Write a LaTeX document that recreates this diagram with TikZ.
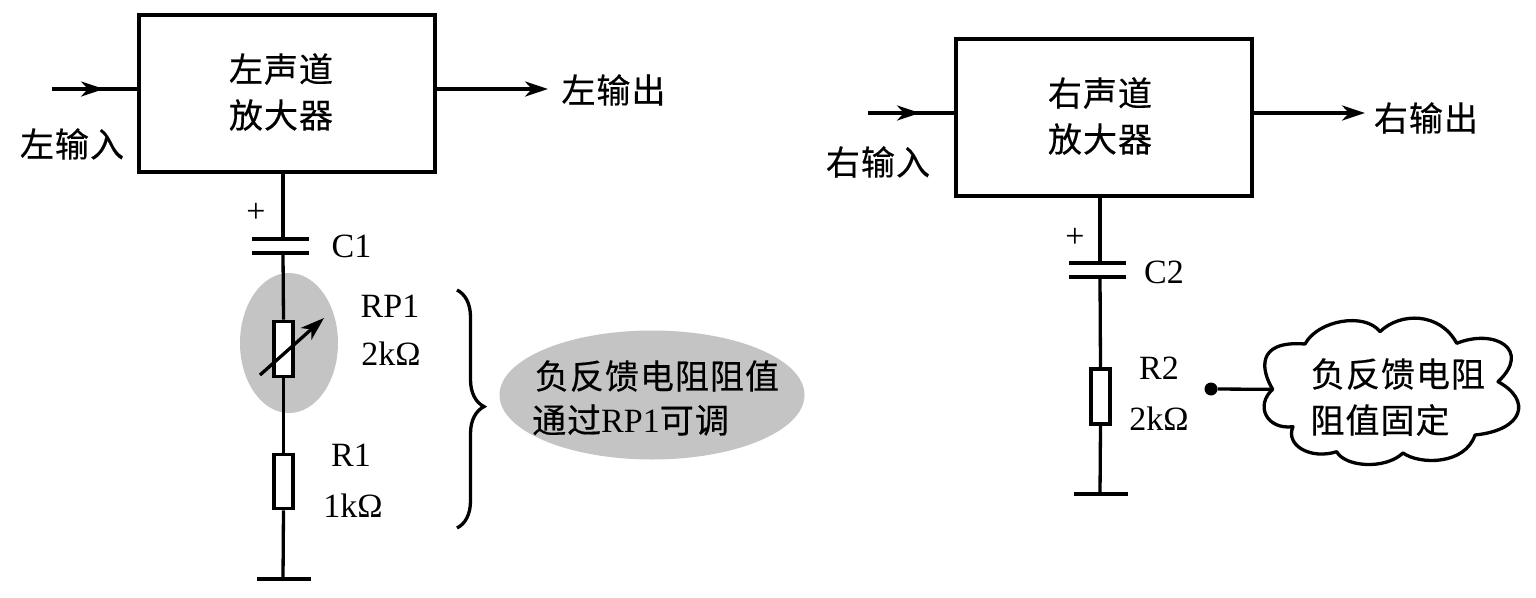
\documentclass[tikz,border=0pt]{standalone}
\usepackage{fontspec}
\usetikzlibrary{arrows.meta,decorations.pathreplacing,shapes.geometric}
\setmainfont{Liberation Serif}
\newfontfamily\cjk[LetterSpace=3,FakeBold=0.4]{Noto Sans CJK SC}
\definecolor{shade}{HTML}{C4C4C4}
\tikzset{
  wire/.style={line width=3.3pt,black},
  plate/.style={line width=4.6pt,black},
  ampbox/.style={draw,line width=3.3pt,minimum width=296pt,minimum height=157pt,inner sep=0pt},
  res/.style={draw,line width=3.6pt,fill=white,minimum width=19pt,inner sep=0pt},
  cjklabel/.style={inner sep=0pt,align=center,font=\cjk\fontsize{34}{46}\selectfont},
  val/.style={inner sep=0pt,font=\fontsize{34}{36}\selectfont},
  tip/.style={-{Stealth[length=23pt,width=15pt,inset=7pt]}},
}
\begin{document}
\begin{tikzpicture}[x=1pt,y=-1pt]
\useasboundingbox (0,0) rectangle (1536,597);
% shaded areas
\node[draw=none,fill=shade,ellipse,minimum width=98pt,minimum height=140pt,inner sep=0pt] (shadeRP) at (289,343) {};
\node[draw=none,fill=shade,ellipse,minimum width=305pt,minimum height=129pt,inner sep=0pt] (noteL) at (652,395) {};
% left channel
\node[ampbox] (boxL) at (287,93.5) {};
\node[cjklabel] (boxLt) at (281,92) {左声道\\放大器};
\coordinate (inL) at (52,89);
\coordinate (inLm) at (104,89);
\coordinate (outL) at (548,89);
\coordinate (topL) at (283,172);
\coordinate (capLa) at (283,239);
\coordinate (capLb) at (283,253);
\coordinate (gndL) at (283,579);
\node[res,minimum height=55pt] (rpL) at (283.5,349) {};
\node[res,minimum height=54pt] (rL) at (283.5,481.5) {};
\draw[wire] (inL) -- (inL -| boxL.west);
\draw[wire,tip] (inL) -- (inLm);
\draw[wire,tip] (boxL.east |- outL) -- (outL);
\draw[wire] (topL) -- (capLa);
\draw[wire] (capLb) -- (rpL.north);
\draw[wire] (rpL.south) -- (rL.north);
\draw[wire] (rL.south) -- (gndL);
\draw[plate] (252,239) -- (309,239);
\draw[plate] (252,253) -- (309,253);
\draw[plate] (257,579) -- (311,579);
\coordinate (adjA) at (260,375);
\coordinate (adjB) at (324,318);
\draw[wire,-{Stealth[length=24pt,width=16pt,inset=7pt]}] (adjA) -- (adjB);
\draw[wire,decorate,decoration={brace,amplitude=27pt,aspect=0.49}] (457,290) -- (457,528);
% right channel
\node[ampbox] (boxR) at (1104,117.5) {};
\node[cjklabel] (boxRt) at (1100,116) {右声道\\放大器};
\coordinate (inR) at (868,113);
\coordinate (inRm) at (920,113);
\coordinate (outR) at (1365,113);
\coordinate (topR) at (1100,196);
\coordinate (capRa) at (1100,263);
\coordinate (capRb) at (1100,277);
\coordinate (gndR) at (1100,494);
\node[res,minimum height=55pt] (rR) at (1100.5,396.5) {};
\draw[wire] (inR) -- (inR -| boxR.west);
\draw[wire,tip] (inR) -- (inRm);
\draw[wire,tip] (boxR.east |- outR) -- (outR);
\draw[wire] (topR) -- (capRa);
\draw[wire] (capRb) -- (rR.north);
\draw[wire] (rR.south) -- (gndR);
\draw[plate] (1069,263) -- (1126,263);
\draw[plate] (1069,277) -- (1126,277);
\draw[plate] (1074,494) -- (1128,494);
% cloud
\coordinate (cloudL) at (1272.7,389.3);
\draw[line width=3.3pt,fill=white,line join=round] (cloudL)
 .. controls (1262,372) and (1254,340) .. (1305,344)
 .. controls (1318,320) and (1365,312) .. (1380,331.7)
 .. controls (1400,312) and (1440,312) .. (1456.7,343.3)
 .. controls (1495,328) and (1532,350) .. (1498,381.7)
 .. controls (1532,400) and (1524,430) .. (1475,435)
 .. controls (1465,465) and (1420,465) .. (1403,453)
 .. controls (1385,470) and (1345,467) .. (1336.7,451.7)
 .. controls (1310,460) and (1285,445) .. (1293,426.7)
 .. controls (1266,430) and (1255,405) .. cycle;
\node[circle,fill=black,minimum size=13pt,inner sep=0pt] (dotR) at (1211,389) {};
\draw[wire] (dotR) -- (cloudL);
% labels
\node[cjklabel] (t1) at (613.5,90) {左输出};
\node[cjklabel] (t2) at (72,144) {左输入};
\node[cjklabel] (t3) at (1426,118) {右输出};
\node[cjklabel] (t4) at (878,162) {右输入};
\node[cjklabel] (t5) at (657,376) {负反馈电阻阻值};
\node[cjklabel,anchor=west] (t6) at (532,420) {通过{\normalfont\fontsize{34}{36}\selectfont RP1}可调};
\node[cjklabel] (t7) at (1398,374) {负反馈电阻};
\node[cjklabel] (t8) at (1380,420) {阻值固定};
\node[val] (p1) at (256,213) {+};
\node[val] (p2) at (1075,238) {+};
\node[val] (v1) at (351.5,246) {C1};
\node[val] (v2) at (390,306) {RP1};
\node[val] (v3) at (391,354) {2kΩ};
\node[val] (v4) at (351,455) {R1};
\node[val] (v5) at (353,506) {1kΩ};
\node[val] (v6) at (1164,272) {C2};
\node[val] (v7) at (1159,368) {R2};
\node[val] (v8) at (1159,419) {2kΩ};
\end{tikzpicture}
\end{document}
